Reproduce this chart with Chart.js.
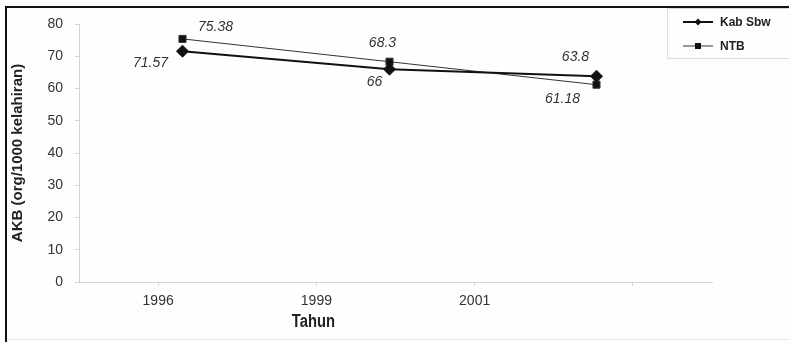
<!DOCTYPE html>
<html>
<head>
<meta charset="utf-8">
<script src="https://cdn.jsdelivr.net/npm/chart.js@4"></script>
<style>
  html, body { margin: 0; padding: 0; background: #fff; }
  #wrap { width: 789px; height: 342px; position: relative; }
</style>
</head>
<body>
<div id="wrap"><canvas id="myChart"></canvas></div>
<script>
const tahun = ['1996', '1999', '2001']
const tickLabels = ['1996', '1999', '2001', '']
const kabSbw = [71.57, 66, 63.8]
const ntb = [75.38, 68.3, 61.18]
const yTicks = [0, 10, 20, 30, 40, 50, 60, 70, 80]

const sans = '"Liberation Sans", Arial, sans-serif'

// label offsets (dx, dy) from each point, per dataset
const labelOffsets = [
    [[-32, 12], [-15, 13], [-21, -19]],
    [[33, -12], [-7, -19], [-34, 14]]
]

const framePlugin = {
    id: 'frame',
    beforeDraw(chart) {
        const c = chart.ctx
        c.save()
        c.fillStyle = '#fefefe'
        c.fillRect(0, 0, chart.width, chart.height)
        c.strokeStyle = '#e4e4e4'
        c.lineWidth = 1
        c.beginPath()
        c.moveTo(7, 339.5)
        c.lineTo(789, 339.5)
        c.stroke()
        c.strokeStyle = '#111'
        c.lineWidth = 2
        c.beginPath()
        c.moveTo(6, 342)
        c.lineTo(6, 7)
        c.lineTo(789, 7)
        c.stroke()
        c.restore()
    },
    afterDraw(chart) {
        const c = chart.ctx
        c.save()
        // value labels
        c.font = 'italic 14px ' + sans
        c.fillStyle = '#333'
        c.textAlign = 'center'
        c.textBaseline = 'middle'
        chart.data.datasets.forEach((ds, i) => {
            chart.getDatasetMeta(i).data.forEach((pt, j) => {
                const off = labelOffsets[i][j]
                c.fillText(String(ds.data[j].y), pt.x + off[0], pt.y + off[1])
            })
        })
        // x title under middle category label (condensed look)
        const xs = chart.scales.x
        const tx = xs.getPixelForTick(1) - 3
        c.save()
        c.translate(tx, 322)
        c.scale(0.82, 1)
        c.font = 'bold 18px ' + sans
        c.fillStyle = '#222'
        c.fillText('Tahun', 0, 0)
        c.restore()
        // legend
        c.strokeStyle = '#dcdcdc'
        c.lineWidth = 1
        c.strokeRect(667.5, 8.5, 140, 50)
        const rows = [22, 46]
        chart.data.datasets.forEach((ds, i) => {
            const y = rows[i]
            c.strokeStyle = ds.borderColor
            c.lineWidth = ds.borderWidth
            c.beginPath()
            c.moveTo(683, y)
            c.lineTo(713, y)
            c.stroke()
            c.fillStyle = '#111'
            c.beginPath()
            if (ds.pointStyle === 'rectRot') {
                c.moveTo(698, y - 3.5)
                c.lineTo(701.5, y)
                c.lineTo(698, y + 3.5)
                c.lineTo(694.5, y)
                c.closePath()
                c.fill()
            } else {
                c.fillRect(695, y - 3, 6, 6)
            }
            c.font = 'bold 12px ' + sans
            c.textAlign = 'left'
            c.fillStyle = '#222'
            c.fillText(ds.label, 720, y + 1)
        })
        c.restore()
    }
}

const ctx = document.getElementById('myChart').getContext('2d')
const myChart = new Chart(ctx, {
    type: 'line',
    data: {
        datasets: [{
            label: 'Kab Sbw',
            data: kabSbw.map((v, i) => ({ x: i, y: v })),
            xAxisID: 'xd',
            borderColor: '#111',
            backgroundColor: '#111',
            borderWidth: 2,
            pointStyle: 'rectRot',
            pointRadius: 6,
            pointBorderWidth: 1,
            tension: 0
        }, {
            label: 'NTB',
            data: ntb.map((v, i) => ({ x: i, y: v })),
            xAxisID: 'xd',
            borderColor: '#333',
            backgroundColor: '#111',
            borderWidth: 1,
            pointStyle: 'rect',
            pointRadius: 5,
            pointBorderWidth: 1,
            tension: 0
        }]
    },
    options: {
        responsive: true,
        maintainAspectRatio: false,
        animation: false,
        layout: { padding: { left: 0, right: 77, top: 24, bottom: 0 } },
        plugins: {
            legend: { display: false },
            tooltip: { enabled: false }
        },
        scales: {
            xd: {
                type: 'linear',
                display: false,
                min: -0.5,
                max: 2.558
            },
            x: {
                type: 'category',
                labels: tickLabels,
                offset: true,
                afterFit: (s) => { s.height = 60 },
                border: { color: '#d4d4d4' },
                grid: { drawOnChartArea: false, tickLength: 4, color: '#d4d4d4' },
                ticks: {
                    font: { family: sans, size: 14 },
                    color: '#333',
                    padding: 7,
                    maxRotation: 0
                }
            },
            y: {
                min: 0,
                max: 80,
                afterFit: (s) => { s.width = 79 },
                afterBuildTicks: (s) => { s.ticks = yTicks.map(v => ({ value: v })) },
                border: { color: '#d4d4d4' },
                grid: { drawOnChartArea: false, tickLength: 4, color: '#d4d4d4' },
                ticks: {
                    font: { family: sans, size: 14 },
                    color: '#333',
                    padding: 12
                },
                title: {
                    display: true,
                    text: 'AKB (org/1000 kelahiran)',
                    font: { family: sans, size: 15, weight: 'bold' },
                    color: '#222',
                    padding: { top: 9, bottom: 0 }
                }
            }
        }
    },
    plugins: [framePlugin]
})
</script>
</body>
</html>
